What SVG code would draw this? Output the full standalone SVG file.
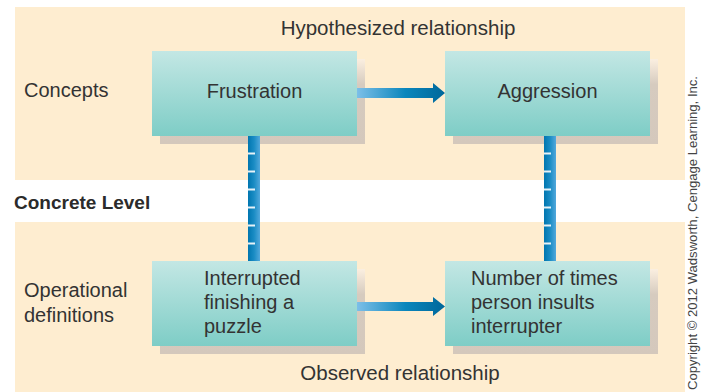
<svg xmlns="http://www.w3.org/2000/svg" width="701" height="392" viewBox="0 0 701 392">
<defs>
<linearGradient id="boxg" x1="0" y1="0" x2="0" y2="1">
<stop offset="0" stop-color="#c3e7e4"/>
<stop offset="1" stop-color="#7ecdc6"/>
</linearGradient>
<linearGradient id="shg" x1="0" y1="0" x2="0" y2="1">
<stop offset="0" stop-color="#fbefe0"/>
<stop offset="0.3" stop-color="#d6cbbf"/>
<stop offset="1" stop-color="#d4c8bc"/>
</linearGradient>
<linearGradient id="harr" x1="0" y1="0" x2="1" y2="0">
<stop offset="0" stop-color="#7cbfe8"/>
<stop offset="0.55" stop-color="#0a86bc"/>
<stop offset="1" stop-color="#00679a"/>
</linearGradient>
<linearGradient id="varr" x1="0" y1="0" x2="1" y2="0">
<stop offset="0" stop-color="#0076b0"/>
<stop offset="0.5" stop-color="#1a8cc4"/>
<stop offset="1" stop-color="#52a8dc"/>
</linearGradient>
<g id="ticks">
<rect x="0" y="152.5" width="7" height="2"/>
<rect x="0" y="170.5" width="7" height="2"/>
<rect x="0" y="188.5" width="7" height="2"/>
<rect x="0" y="206.5" width="7" height="2"/>
<rect x="0" y="224.5" width="7" height="2"/>
<rect x="0" y="242.5" width="7" height="2"/>
</g>
</defs>
<style>
.t{font-family:"Liberation Sans",Arial,sans-serif;font-size:20px;fill:#333333}
.h{font-size:20.5px}
.b{font-family:"Liberation Sans",Arial,sans-serif;font-size:19px;font-weight:bold;fill:#2b2b2b}
.c{font-family:"Liberation Sans",Arial,sans-serif;font-size:13.5px;fill:#444444}
.box{fill:url(#boxg)}
.sh{fill:url(#shg)}
.tk{fill:#ffffff;opacity:0.9}
</style>
<rect x="0" y="0" width="701" height="392" fill="#ffffff"/>
<g id="bands">
<rect x="15" y="7" width="670" height="173" fill="#feedd0"/>
<rect x="15" y="222" width="670" height="170" fill="#feedd0"/>
</g>
<g id="labels">
<text class="t h" x="398" y="35" text-anchor="middle">Hypothesized relationship</text>
<text class="t" x="24" y="97">Concepts</text>
<text class="b" x="14" y="209">Concrete Level</text>
<text class="t" x="24" y="297">Operational</text>
<text class="t" x="24" y="322">definitions</text>
<text class="t h" x="400" y="380" text-anchor="middle">Observed relationship</text>
<text class="c" transform="translate(697,390) rotate(-90)" textLength="314" lengthAdjust="spacingAndGlyphs">Copyright © 2012 Wadsworth, Cengage Learning, Inc.</text>
</g>
<g id="frustration">
<rect class="sh" x="160" y="59" width="205" height="85"/>
<rect class="box" x="152" y="51" width="205" height="85"/>
<text class="t" x="254.5" y="98" text-anchor="middle">Frustration</text>
</g>
<g id="aggression">
<rect class="sh" x="453" y="59" width="205" height="85"/>
<rect class="box" x="445" y="51" width="205" height="85"/>
<text class="t" x="547.5" y="98" text-anchor="middle">Aggression</text>
</g>
<g id="interrupted">
<rect class="sh" x="160" y="269" width="205" height="85"/>
<rect class="box" x="152" y="261" width="205" height="85"/>
<text class="t" x="204" y="285">Interrupted</text>
<text class="t" x="204" y="309">finishing a</text>
<text class="t" x="204" y="333">puzzle</text>
</g>
<g id="insults">
<rect class="sh" x="453" y="269" width="205" height="85"/>
<rect class="box" x="445" y="261" width="205" height="85"/>
<text class="t" x="471" y="285">Number of times</text>
<text class="t" x="471" y="309">person insults</text>
<text class="t" x="471" y="333">interrupter</text>
</g>
<g id="connectors">
<rect x="248" y="136" width="12" height="125" fill="url(#varr)"/>
<use href="#ticks" x="248" class="tk"/>
<rect x="544" y="136" width="12" height="125" fill="url(#varr)"/>
<use href="#ticks" x="544" class="tk"/>
<path d="M357,88 H433 V83 L445,93 L433,103 V98 H357 Z" fill="url(#harr)"/>
<path d="M357,302 H433 V297 L445,306.5 L433,316 V311 H357 Z" fill="url(#harr)"/>
</g>
</svg>
